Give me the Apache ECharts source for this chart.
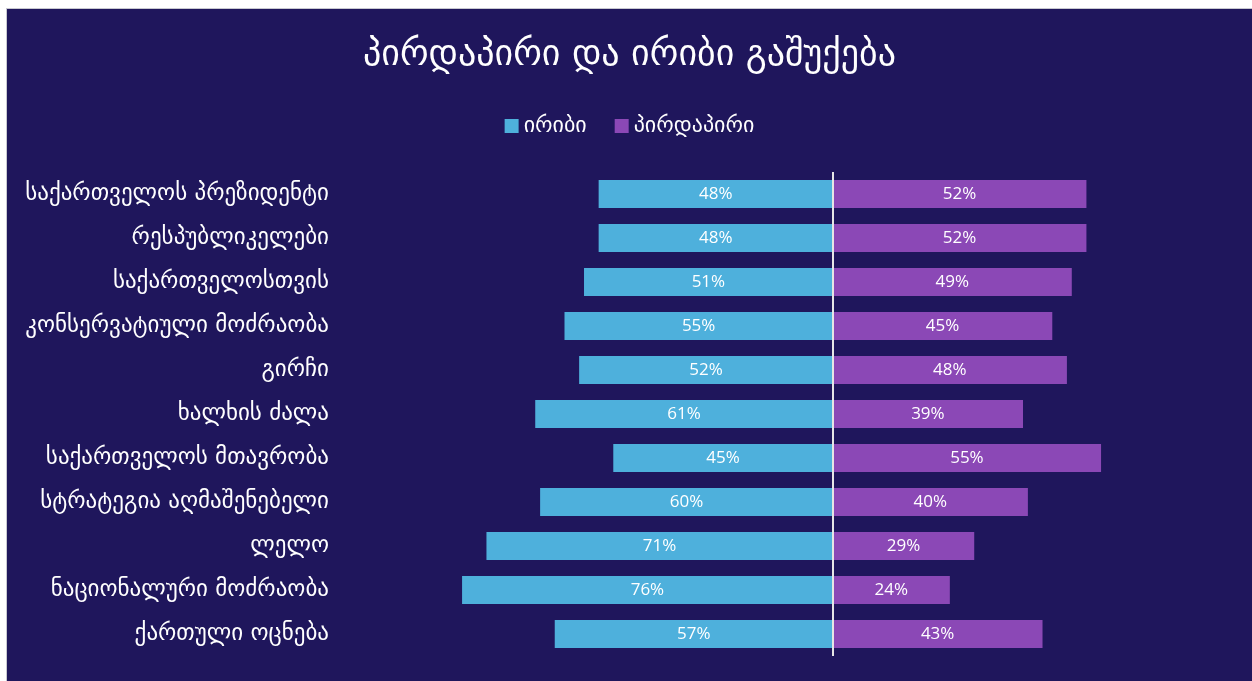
<!DOCTYPE html>
<html><head><meta charset="utf-8">
<script src="https://cdn.jsdelivr.net/npm/echarts@6/dist/echarts.min.js"></script>
<style>
html,body{margin:0;padding:0;background:#ffffff;width:1252px;height:681px;overflow:hidden;}
#c{position:absolute;left:6px;top:8px;width:1246px;height:673px;background:#1f165c;border-top:1px solid #c8c8d0;border-left:1px solid #c8c8d0;box-sizing:border-box;}
</style></head><body>
<div id="c"></div>
<script>
const categories = ["საქართველოს პრეზიდენტი","რესპუბლიკელები","საქართველოსთვის","კონსერვატიული მოძრაობა","გირჩი","ხალხის ძალა","საქართველოს მთავრობა","სტრატეგია აღმაშენებელი","ლელო","ნაციონალური მოძრაობა","ქართული ოცნება"];
const indirect = [48,48,51,55,52,61,45,60,71,76,57];
const direct = [52,52,49,45,48,39,55,40,29,24,43];
const seriesNames = ["ირიბი","პირდაპირი"];
const titleText = "პირდაპირი და ირიბი გაშუქება";

const chart = echarts.init(document.getElementById('c'));
const font = "'DejaVu Sans', sans-serif";
const numFont = "'Open Sans', 'DejaVu Sans', sans-serif";
chart.setOption({
  backgroundColor: '#1f165c',
  animation: false,
  title: {text: titleText, left: 'center', top: 24, textStyle: {color:'#ffffff', fontSize: 36, fontWeight: 'normal', fontFamily: font}},
  legend: {top: 101, left: 'center', itemWidth: 14, itemHeight: 14, itemGap: 28, icon: 'rect',
    textStyle: {color:'#ffffff', fontSize: 22, fontFamily: font}, data: seriesNames},
  grid: {left: 338, right: 29, top: 163, bottom: 25, containLabel: false},
  xAxis: {type:'value', min:-100, max:80, show:false},
  yAxis: {type:'category', data: categories, inverse: true,
    axisLine:{show:false}, axisTick:{show:false}, splitLine:{show:false},
    axisLabel:{color:'#ffffff', fontSize: 23, fontFamily: font, margin: 16}},
  series: [
    {name: seriesNames[0], type:'bar', data: indirect.map(v => -v), barWidth: 28, barGap: '-100%',
      itemStyle:{color:'#4eb0dc'},
      label:{show:true, position:'inside', color:'#ffffff', fontSize:17, fontFamily:numFont, formatter: p => Math.abs(p.value)+'%'},
      markLine:{silent:true, symbol:'none', label:{show:false}, lineStyle:{color:'#e6e6e6', width:2, type:'solid'}, data:[{xAxis:0}]}
    },
    {name: seriesNames[1], type:'bar', data: direct, barWidth: 28, barGap: '-100%',
      itemStyle:{color:'#8b48b6'},
      label:{show:true, position:'inside', color:'#ffffff', fontSize:17, fontFamily:numFont, formatter: p => p.value+'%'}
    }
  ]
});
</script>
</body></html>
